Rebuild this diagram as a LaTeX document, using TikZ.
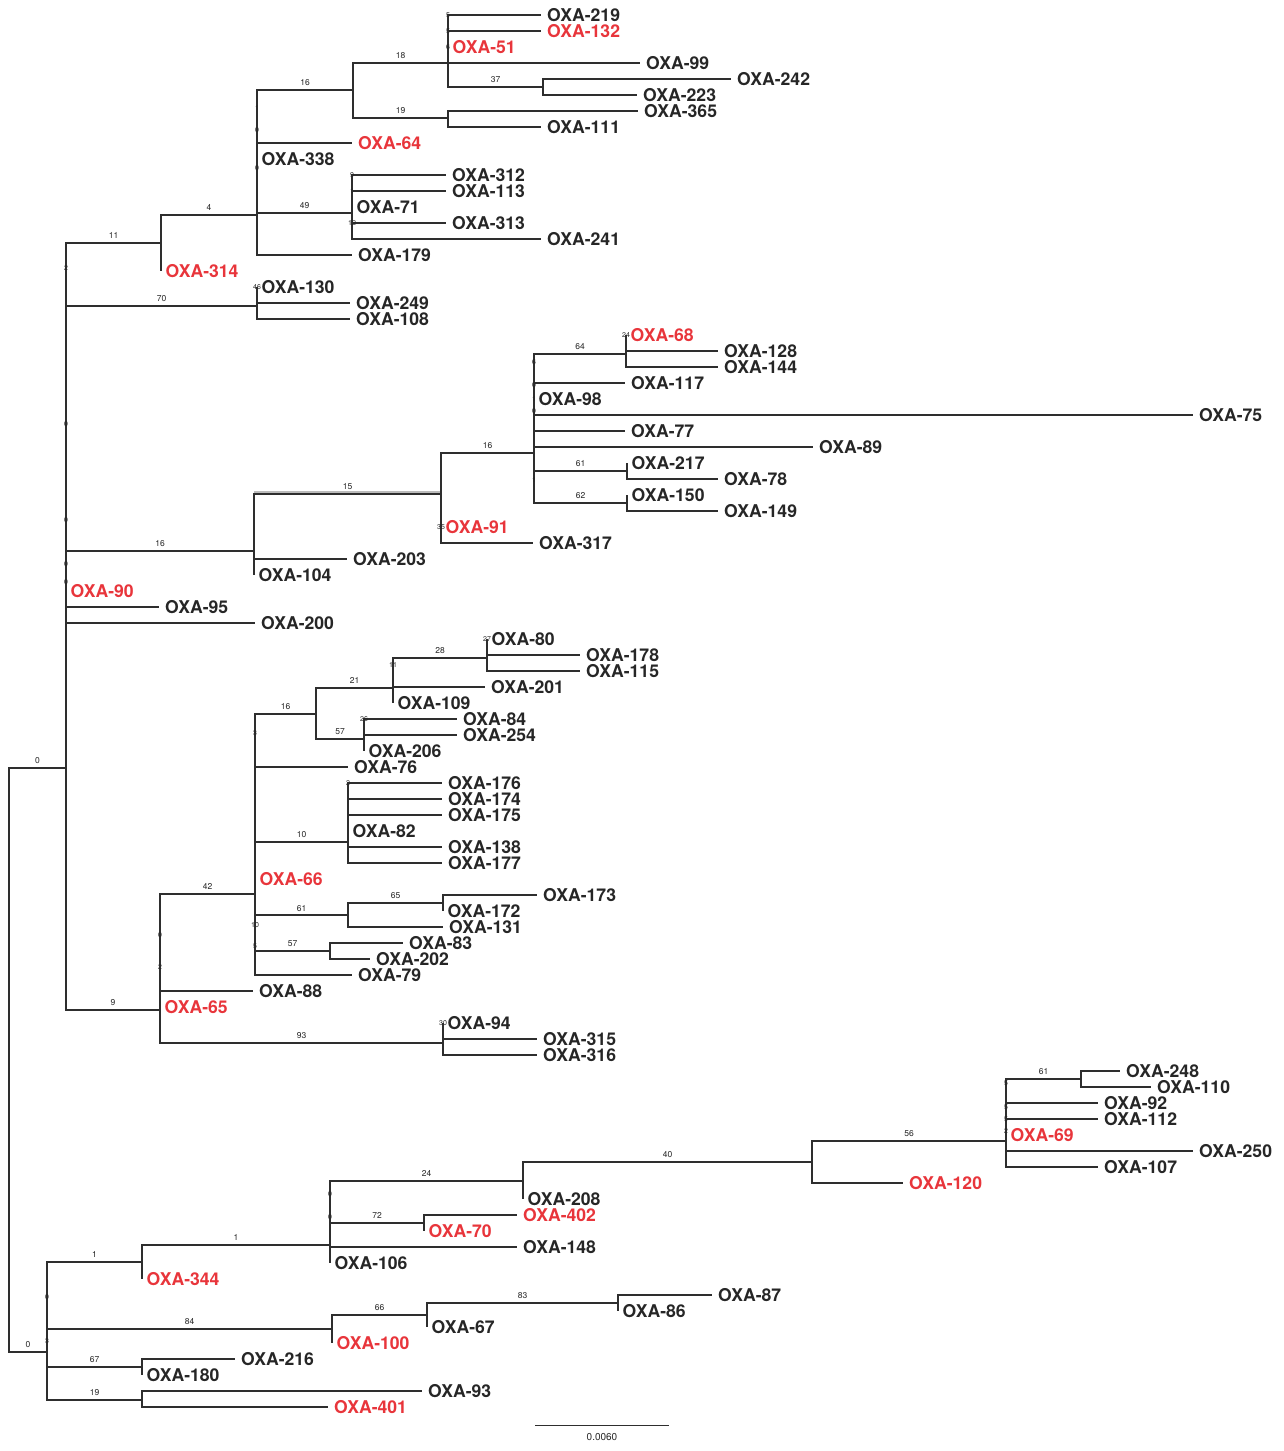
\documentclass[tikz,border=0pt]{standalone}
\usepackage{fontspec}
\newfontfamily\hv{TeX Gyre Heros}
\definecolor{txt}{HTML}{262626}
\definecolor{redc}{HTML}{E8353B}
\definecolor{linec}{HTML}{2E2E2E}
\definecolor{shadc}{HTML}{BBBBBB}
\newcommand\lblfont{\hv\bfseries\fontsize{17.6}{18}\selectfont}
\newcommand\smfont{\hv\fontsize{8.5}{9}\selectfont}
\newcommand\sbfont{\hv\fontsize{10}{11}\selectfont}
\newcommand\tnfont{\hv\fontsize{7}{8}\selectfont}
\tikzset{
  br/.style={draw=linec, line width=2.6pt},
  thinbr/.style={draw=linec, line width=1.2pt},
  shadowline/.style={draw=shadc, line width=2pt},
  leaf/.style={anchor=west, inner xsep=6pt, inner ysep=0pt, font=\lblfont, text=txt, yshift=-0.5pt},
  zleaf/.style={leaf, inner xsep=4.5pt},
  rleaf/.style={leaf, text=redc},
  rzleaf/.style={zleaf, text=redc},
  blab/.style={anchor=south, inner sep=0pt, yshift=3.2pt, font=\smfont, text=txt},
  nlab/.style={inner sep=0pt, font=\tnfont, text=txt},
}
\begin{document}
\begin{tikzpicture}[x=1pt,y=-1pt]
\useasboundingbox (0,0) rectangle (1283,1451);
% internal nodes
\foreach \n/\x/\y in {R/9/1060, A/66/768, B/47/1352, N161/161/243, N257/257/215,
  N353/353/90, N448a/448/63, N543/543/87, N448b/448/118, N352/352/213,
  N257b/257/306, N254/254/551, N441/441/494, N534/534/453, N626/626/354,
  N627b/627/471, N627c/627/503, N160/160/1010, N255/255/894, N316/316/714,
  N393/393/688, N487/487/658, N364/364/739, N348/348/842, N348b/348/915,
  N443b/443/903, N330/330/951, N443/443/1043, N142a/142/1262, N330b/330/1245,
  N523/523/1181, N812/812/1162, N1006/1006/1141, N1081/1081/1079, N424/424/1223,
  N332/332/1329, N427/427/1315, N618/618/1303, N142c/142/1367, N142d/142/1400}
  \coordinate (\n) at (\x,\y);
% leaves
\foreach \n/\x/\y/\s in {219/541/15/leaf, 132/541/31/rleaf, 51/448/47/rzleaf,
  99/640/63/leaf, 242/731/79/leaf, 223/637/95/leaf, 365/638/111/leaf,
  111/541/127/leaf, 64/352/143/rleaf, 338/257/159/zleaf, 312/446/175/leaf,
  113/446/191/leaf, 71/352/207/zleaf, 313/446/223/leaf, 241/541/239/leaf,
  179/352/255/leaf, 314/161/271/rzleaf, 130/257/287/zleaf, 249/350/303/leaf,
  108/350/319/leaf, 68/626/335/rzleaf, 128/718/351/leaf, 144/718/367/leaf,
  117/625/383/leaf, 98/534/399/zleaf, 75/1193/415/leaf, 77/625/431/leaf,
  89/813/447/leaf, 217/627/463/zleaf, 78/718/479/leaf, 150/627/495/zleaf,
  149/718/511/leaf, 91/441/527/rzleaf, 317/533/543/leaf, 203/347/559/leaf,
  104/254/575/zleaf, 90/66/591/rzleaf, 95/159/607/leaf, 200/255/623/leaf,
  80/487/639/zleaf, 178/580/655/leaf, 115/580/671/leaf, 201/485/687/leaf,
  109/393/703/zleaf, 84/457/719/leaf, 254/457/735/leaf, 206/364/751/zleaf,
  76/348/767/leaf, 176/442/783/leaf, 174/442/799/leaf, 175/442/815/leaf,
  82/348/831/zleaf, 138/442/847/leaf, 177/442/863/leaf, 66/255/879/rzleaf,
  173/537/895/leaf, 172/443/911/zleaf, 131/443/927/leaf, 83/403/943/leaf,
  202/370/959/leaf, 79/352/975/leaf, 88/253/991/leaf, 65/160/1007/rzleaf,
  94/443/1023/zleaf, 315/537/1039/leaf, 316/537/1055/leaf, 248/1120/1071/leaf,
  110/1151/1087/leaf, 92/1098/1103/leaf, 112/1098/1119/leaf, 69/1006/1135/rzleaf,
  250/1193/1151/leaf, 107/1098/1167/leaf, 120/903/1183/rleaf, 208/523/1199/zleaf,
  402/517/1215/rleaf, 70/424/1231/rzleaf, 148/517/1247/leaf, 106/330/1263/zleaf,
  344/142/1279/rzleaf, 87/712/1295/leaf, 86/618/1311/zleaf, 67/427/1327/zleaf,
  100/332/1343/rzleaf, 216/235/1359/leaf, 180/142/1375/zleaf, 93/422/1391/leaf,
  401/328/1407/rleaf}
  \node[\s] (L\n) at (\x,\y) {OXA-\n};
% shadow on branch 15
\draw[shadowline] ([yshift=2.2pt]N254 |- N441) -- ([yshift=2.2pt]N441);
% labelled internal branches
\foreach \p/\c/\t in {R/A/0, R/B/0, A/N161/11, A/N257b/70, A/N254/16, A/N160/9,
  N161/N257/4, N257/N353/16, N257/N352/49, N353/N448a/18, N353/N448b/19,
  N448a/N543/37, N254/N441/15, N441/N534/16, N534/N626/64, N534/N627b/61,
  N534/N627c/62, N160/N255/42, N160/N443/93, N255/N316/16, N255/N348/10,
  N255/N330/57, N316/N393/21, N316/N364/57, N393/N487/28, N348b/N443b/65,
  B/N142a/1, B/N332/84, B/N142c/67, B/N142d/19, N142a/N330b/1, N330b/N523/24,
  N330b/N424/72, N523/N812/40, N812/N1006/56, N1006/N1081/61, N332/N427/66,
  N427/N618/83}
  \draw[br] (\p) |- node[blab, pos=0.75, name=bl-\c] {\t} (\c);
\draw[thinbr] (N255) |- node[blab, pos=0.75, name=bl-N348b] {61} (N348b);
% leaf branches
\foreach \p/\c in {N448a/L219, N448a/L132, N448a/L51, N448a/L99, N543/L242,
  N543/L223, N448b/L365, N448b/L111, N257/L64, N257/L338, N257/L179,
  N352/L312, N352/L113, N352/L71, N352/L313, N352/L241, N161/L314,
  N257b/L130, N257b/L249, N257b/L108, N254/L203, N254/L104, N441/L91,
  N441/L317, N534/L117, N534/L98, N534/L75, N534/L77, N534/L89, N626/L68,
  N626/L128, N626/L144, N627b/L217, N627b/L78, N627c/L150, N627c/L149,
  A/L90, A/L95, A/L200, N160/L88, N160/L65, N255/L76, N255/L66, N255/L79,
  N393/L201, N393/L109, N487/L80, N487/L178, N487/L115, N364/L84, N364/L254,
  N364/L206, N348/L176, N348/L174, N348/L175, N348/L82, N348/L138, N348/L177,
  N348b/L131, N443b/L173, N443b/L172, N330/L83, N330/L202, N443/L94,
  N443/L315, N142a/L344, N330b/L148, N330b/L106, N523/L208, N812/L120,
  N1006/L92, N1006/L112, N1006/L69, N1006/L250, N1006/L107, N1081/L248,
  N1081/L110, N424/L402, N424/L70, N332/L100, N427/L67, N618/L87, N618/L86,
  N142c/L216, N142c/L180, N142d/L93}
  \draw[br] (\p) |- ([yshift=0.5pt]\c.west);
\draw[thinbr] (N443) |- ([yshift=0.5pt]L316.west);
\draw[thinbr] (N142d) |- ([yshift=0.5pt]L401.west);
% small node labels
\foreach \x/\y/\t [count=\i] in {66/268/2, 66/424/0, 66/520/0, 66/564/0, 66/582/0,
  257/108/1, 257/130/0, 257/168/0, 448/15/5, 448/31/5, 448/47/6,
  352/175/9, 352/191/1, 352/223/12, 257/287/46, 534/362/6, 534/385/0,
  534/399/1, 534/411/0, 534/480/1, 626/335/24, 441/527/35, 393/665/11,
  487/639/27, 364/719/26, 255/733/3, 255/925/10, 255/946/5, 348/783/2,
  160/935/0, 160/967/2, 443/1023/30, 1006/1083/5, 1006/1107/5, 1006/1119/5,
  1006/1131/2, 330/1194/0, 330/1217/0, 47/1297/0, 47/1341/3}
  \node[nlab] (nl\i) at (\x,\y) {\t};
% scale bar
\coordinate (sb1) at (535,1425);
\coordinate (sb2) at (669,1425);
\draw[draw=linec, line width=1pt] (sb1) -- node[below=7.5pt, inner sep=0pt, font=\sbfont, text=txt] (sblab) {0.0060} (sb2);
\end{tikzpicture}
\end{document}
